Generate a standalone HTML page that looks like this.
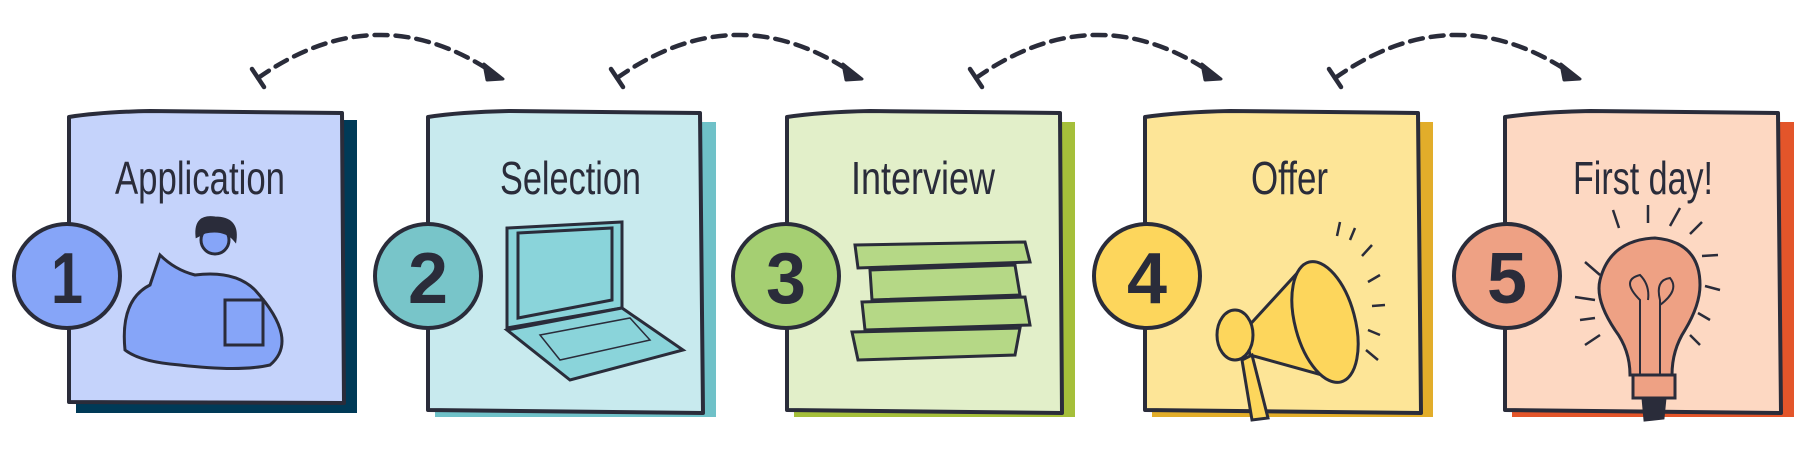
<!DOCTYPE html>
<html><head><meta charset="utf-8"><style>
html,body{margin:0;padding:0;background:#fff;}
svg{display:block;}
text{font-family:"Liberation Sans Narrow","Liberation Sans",sans-serif;fill:#2a2c3a;}
.t{font-size:46px;}
.n{font-size:72px;font-weight:bold;font-family:"Liberation Sans",sans-serif;}
</style></head><body>
<svg width="1810" height="464" viewBox="0 0 1810 464" xmlns="http://www.w3.org/2000/svg">
<defs>
<g id="arrow">
<path d="M258 78 Q376 -5 492 72" fill="none" stroke="#2a2c3a" stroke-width="4.5" stroke-dasharray="13 8" stroke-linecap="round"/>
<path d="M252 69 L264 87" stroke="#2a2c3a" stroke-width="4.5" stroke-linecap="round"/>
<path d="M484 64 L503 79 L487 80 Z" fill="#2a2c3a" stroke="#2a2c3a" stroke-width="3" stroke-linejoin="round"/>
</g>
</defs>
<use href="#arrow"/>
<use href="#arrow" x="359"/>
<use href="#arrow" x="718"/>
<use href="#arrow" x="1077"/>

<!-- Box 1 -->
<g>
<rect x="76" y="120" width="281" height="293" fill="#003a57"/>
<path d="M69 117 Q100 112 150 111 L342 113 L344 403 L69 402 Z" fill="#c5d3fb" stroke="#2a2c3a" stroke-width="4" stroke-linejoin="round"/>
<text class="t" x="115" y="194" textLength="170" lengthAdjust="spacingAndGlyphs">Application</text>
<g stroke="#2a2c3a" stroke-width="3" fill="#86a5f8">
<path d="M125 350 Q120 300 150 285 L160 255 Q175 270 195 275 Q235 270 255 290 Q300 340 270 365 Q240 372 180 365 Q140 362 125 350 Z"/>
<circle cx="215" cy="240" r="14" fill="#86a5f8"/>
<path d="M197 236 Q195 215 215 218 Q238 218 235 240 Q225 228 205 232 Z" fill="#2a2c3a"/>
<rect x="225" y="300" width="38" height="45" fill="#86a5f8"/>
</g>
<ellipse cx="67" cy="276" rx="53" ry="52" fill="#86a5f8" stroke="#2a2c3a" stroke-width="4"/>
<text class="n" x="67" y="303" text-anchor="middle" textLength="32" lengthAdjust="spacingAndGlyphs">1</text>
</g>

<!-- Box 2 -->
<g>
<rect x="435" y="122" width="281" height="295" fill="#6fc1c8"/>
<path d="M428 117 Q460 112 510 111 L700 113 L703 413 L428 410 Z" fill="#c8eaee" stroke="#2a2c3a" stroke-width="4" stroke-linejoin="round"/>
<text class="t" x="500" y="194" textLength="141" lengthAdjust="spacingAndGlyphs">Selection</text>
<g stroke="#2a2c3a" stroke-width="3" fill="#8ad4da">
<path d="M507 228 L622 222 L622 308 L507 328 Z"/>
<path d="M518 233 L612 228 L612 300 L518 318 Z"/>
<path d="M507 330 L622 308 L683 350 L570 380 Z"/>
<path d="M540 335 L630 318 L650 340 L560 360 Z" fill="none" stroke-width="1.5"/>
</g>
<ellipse cx="428" cy="276" rx="53" ry="52" fill="#78c5c9" stroke="#2a2c3a" stroke-width="4"/>
<text class="n" x="428" y="303" text-anchor="middle" textLength="40" lengthAdjust="spacingAndGlyphs">2</text>
</g>

<!-- Box 3 -->
<g>
<rect x="794" y="122" width="281" height="295" fill="#a5bf3a"/>
<path d="M787 117 Q820 112 870 111 L1060 113 L1062 413 L787 410 Z" fill="#e2efc9" stroke="#2a2c3a" stroke-width="4" stroke-linejoin="round"/>
<text class="t" x="851" y="194" textLength="144" lengthAdjust="spacingAndGlyphs">Interview</text>
<g stroke="#2a2c3a" stroke-width="3" fill="#b5d886">
<path d="M855 245 L1025 242 L1030 262 L858 268 Z"/>
<path d="M870 270 L1015 265 L1020 295 L872 300 Z"/>
<path d="M862 302 L1025 297 L1030 325 L865 330 Z"/>
<path d="M852 332 L1020 328 L1015 355 L858 360 Z"/>
</g>
<ellipse cx="786" cy="276" rx="53" ry="52" fill="#a5cf72" stroke="#2a2c3a" stroke-width="4"/>
<text class="n" x="786" y="303" text-anchor="middle" textLength="40" lengthAdjust="spacingAndGlyphs">3</text>
</g>

<!-- Box 4 -->
<g>
<rect x="1152" y="122" width="281" height="295" fill="#e2ad2a"/>
<path d="M1145 117 Q1180 112 1230 111 L1418 113 L1421 413 L1145 410 Z" fill="#fde597" stroke="#2a2c3a" stroke-width="4" stroke-linejoin="round"/>
<text class="t" x="1251" y="194" textLength="77" lengthAdjust="spacingAndGlyphs">Offer</text>
<g stroke="#2a2c3a" stroke-width="3" fill="#fdd65c">
<path d="M1245 330 L1300 270 L1340 380 L1250 355 Z"/>
<ellipse cx="1325" cy="322" rx="30" ry="62" transform="rotate(-15 1325 322)"/>
<ellipse cx="1235" cy="335" rx="18" ry="25"/>
<path d="M1242 360 L1252 420 L1268 418 L1252 355 Z"/>
</g>
<g stroke="#2a2c3a" stroke-width="2.5">
<path d="M1340 222 L1337 236 M1355 228 L1350 240 M1372 245 L1362 256 M1380 275 L1368 282 M1385 305 L1372 306 M1380 335 L1368 330 M1378 360 L1366 350"/>
</g>
<ellipse cx="1147" cy="276" rx="53" ry="52" fill="#fdd65c" stroke="#2a2c3a" stroke-width="4"/>
<text class="n" x="1147" y="303" text-anchor="middle" textLength="40" lengthAdjust="spacingAndGlyphs">4</text>
</g>

<!-- Box 5 -->
<g>
<rect x="1512" y="122" width="282" height="295" fill="#e3552a"/>
<path d="M1505 117 Q1540 112 1590 111 L1778 113 L1781 413 L1505 410 Z" fill="#fdd8c2" stroke="#2a2c3a" stroke-width="4" stroke-linejoin="round"/>
<text class="t" x="1573" y="194" textLength="140" lengthAdjust="spacingAndGlyphs">First day!</text>
<g stroke="#2a2c3a" stroke-width="3" fill="#eea184">
<path d="M1630 375 Q1630 350 1615 330 Q1595 300 1600 280 Q1610 240 1655 238 Q1700 242 1700 285 Q1700 305 1685 330 Q1672 350 1672 375 Z"/>
<rect x="1633" y="375" width="42" height="23" fill="#eea184"/>
<path d="M1643 398 L1665 398 L1663 418 L1645 420 Z" fill="#2a2c3a"/>
<path d="M1640 375 L1640 300 Q1620 280 1640 275 Q1650 285 1648 300 M1660 375 L1660 300 Q1655 280 1670 278 Q1680 290 1660 305" fill="none" stroke-width="2"/>
</g>
<g stroke="#2a2c3a" stroke-width="2.5">
<path d="M1613 210 L1619 228 M1648 205 L1648 223 M1680 208 L1670 226 M1702 222 L1690 234 M1718 255 L1702 256 M1720 290 L1705 286 M1710 320 L1698 313 M1700 345 L1690 335 M1575 297 L1595 300 M1585 262 L1600 275 M1585 345 L1600 335 M1580 320 L1595 318"/>
</g>
<ellipse cx="1507" cy="276" rx="53" ry="52" fill="#eea184" stroke="#2a2c3a" stroke-width="4"/>
<text class="n" x="1507" y="303" text-anchor="middle" textLength="40" lengthAdjust="spacingAndGlyphs">5</text>
</g>
</svg>
</body></html>
